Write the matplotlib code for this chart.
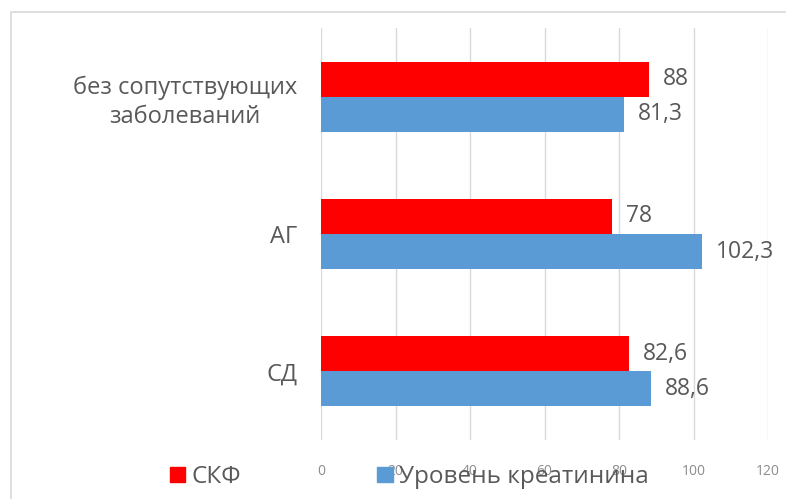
import numpy as np
import matplotlib.pyplot as plt
from matplotlib.patches import Rectangle
from matplotlib.lines import Line2D

# data
categories = ['СД', 'АГ', 'без сопутствующих\nзаболеваний']
skf = [82.6, 78, 88]
creatinine = [88.6, 102.3, 81.3]
skf_labels = ['82,6', '78', '88']
creat_labels = ['88,6', '102,3', '81,3']
xticks = [0, 20, 40, 60, 80, 100, 120]

RED = '#FF0000'
BLUE = '#5B9BD5'
TXT = '#595959'

plt.rcParams['font.family'] = ['Open Sans', 'DejaVu Sans']

fig = plt.figure(figsize=(7.86, 4.99), dpi=100)
# outer chart border (only left and top edges are visible in the crop)
fig.add_artist(Line2D([11 / 786, 11 / 786, 1.0], [0.0, 1 - 12 / 499, 1 - 12 / 499],
                      transform=fig.transFigure, color='#D9D9D9', linewidth=1.2))

ax = fig.add_axes([321 / 786, 1 - 440 / 499, (768 - 321) / 786, (440 - 28) / 499])

y = np.arange(len(categories))
h = 0.255
ax.barh(y + h / 2, skf, height=h, color=RED, label='СКФ')
ax.barh(y - h / 2, creatinine, height=h, color=BLUE, label='Уровень креатинина')

for i in range(len(categories)):
    ax.text(skf[i] + 3.8, y[i] + h / 2, skf_labels[i], va='center', ha='left',
            fontsize=16.5, color=TXT)
    ax.text(creatinine[i] + 3.8, y[i] - h / 2, creat_labels[i], va='center', ha='left',
            fontsize=16.5, color=TXT)

ax.set_xlim(0, 120)
ax.set_ylim(-0.5, 2.5)
ax.set_xticks(xticks)
ax.set_xticklabels([str(t) for t in xticks], color='#8C8C8C', fontsize=10)
ax.set_yticks(y)
ax.set_yticklabels(categories, fontsize=17, color=TXT, linespacing=1.3)
for lab in ax.get_yticklabels():
    lab.set_multialignment('center')
ax.tick_params(axis='y', length=0, pad=17)
ax.tick_params(axis='x', length=0, pad=17)
for s in ax.spines.values():
    s.set_visible(False)
ax.grid(axis='x', color='#D9D9D9', linewidth=1)
ax.set_axisbelow(True)

# legend (two entries, spread out along the bottom)
h1 = Rectangle((0, 0), 1, 1, color=RED)
h2 = Rectangle((0, 0), 1, 1, color=BLUE)
fig.legend([h1, h2], ['СКФ', 'Уровень креатинина'], loc='center left',
           bbox_to_anchor=(170 / 786, 1 - 477 / 499), ncol=2, frameon=False,
           borderpad=0, borderaxespad=0,
           fontsize=17.5, labelcolor=TXT, handlelength=0.62, handleheight=0.62,
           handletextpad=0.28, columnspacing=5.6)

fig.savefig('out.png', dpi=100)
